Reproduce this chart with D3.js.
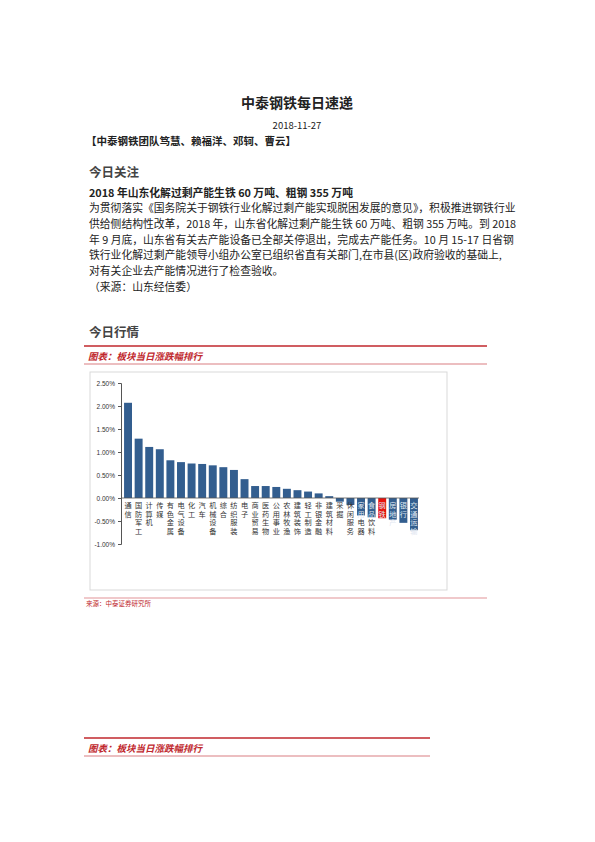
<!DOCTYPE html>
<html><head><meta charset="utf-8">
<script src="https://cdn.jsdelivr.net/npm/d3@7"></script>
<style>
body{margin:0;background:#fff;font-family:"Noto Sans CJK SC","Noto Sans",sans-serif;}
</style></head>
<body><div id="page"></div>
<script>
const categories = ["通信","国防军工","计算机","传媒","有色金属","电气设备","化工","汽车","机械设备","综合","纺织服装","电子","商业贸易","医药生物","公用事业","农林牧渔","建筑装饰","轻工制造","非银金融","建筑材料","采掘","休闲服务","家用电器","食品饮料","钢铁","房地产","银行","交通运输"];
const values = [2.07,1.29,1.11,1.06,0.82,0.78,0.75,0.74,0.71,0.67,0.61,0.41,0.26,0.26,0.24,0.20,0.17,0.14,0.10,0.04,-0.08,-0.15,-0.38,-0.42,-0.44,-0.47,-0.54,-0.70];
const yTicks = [2.5,2.0,1.5,1.0,0.5,0,-0.5,-1.0];
const bodyLines = [
 "为贯彻落实《国务院关于钢铁行业化解过剩产能实现脱困发展的意见》，积极推进钢铁行业",
 "供给侧结构性改革，2018 年，山东省化解过剩产能生铁 60 万吨、粗钢 355 万吨。到 2018",
 "年 9 月底，山东省有关去产能设备已全部关停退出，完成去产能任务。10 月 15-17 日省钢",
 "铁行业化解过剩产能领导小组办公室已组织省直有关部门,在市县(区)政府验收的基础上,",
 "对有关企业去产能情况进行了检查验收。",
 "（来源：山东经信委）"
];

const svg = d3.select("#page").append("svg").attr("width",595).attr("height",842);
const txt = (x,y,s,size,opt={}) => svg.append("text").attr("x",x).attr("y",y)
  .attr("font-size",size).attr("fill",opt.fill||"#222").attr("font-weight",opt.bold?"bold":"normal")
  .attr("text-anchor",opt.anchor||"start").attr("font-style",opt.italic?"italic":"normal").text(s);

txt(297,108,"中泰钢铁每日速递",14,{bold:true,anchor:"middle"});
txt(297,129,"2018-11-27",9.5,{anchor:"middle"});
txt(86,145,"【中泰钢铁团队笃慧、赖福洋、邓轲、曹云】",10.5,{bold:true});
txt(89,177,"今日关注",12.5,{bold:true,fill:"#444"});
txt(89,197,"2018 年山东化解过剩产能生铁 60 万吨、粗钢 355 万吨",10.8,{bold:true});
bodyLines.forEach((l,i)=>txt(89,212+i*15.8,l,10.8));
txt(89,337,"今日行情",12.5,{bold:true,fill:"#444"});

function caption(y,x2){
  svg.append("line").attr("x1",84).attr("x2",x2).attr("y1",y).attr("y2",y).attr("stroke","#c0272d").attr("stroke-width",1.6);
  txt(88,y+14,"图表：板块当日涨跌幅排行",9.5,{bold:true,italic:true,fill:"#c0272d"});
  svg.append("line").attr("x1",84).attr("x2",x2).attr("y1",y+18).attr("y2",y+18).attr("stroke","#c0272d").attr("stroke-width",0.6);
}
caption(346,487);
caption(738,430);

// chart frame
svg.append("rect").attr("x",90).attr("y",372).attr("width",357).attr("height",218).attr("fill","none").attr("stroke","#d9d9d9");

const y = d3.scaleLinear().domain([-1,2.5]).range([544,383]);
const x = d3.scaleBand().domain(categories).range([123,419]).paddingInner(0.25).paddingOuter(0.1);

svg.append("g").attr("transform","translate(121,0)")
  .call(d3.axisLeft(y).tickValues(yTicks).tickFormat(d=>d.toFixed(2)+"%").tickSize(3))
  .call(g=>g.selectAll("text").attr("font-size",6.5).attr("font-family","Liberation Sans, sans-serif").attr("fill","#333"))
  .call(g=>g.selectAll("line,path").attr("stroke","#555"));

svg.append("g").selectAll("rect").data(values).join("rect")
  .attr("x",(d,i)=>x(categories[i])).attr("width",x.bandwidth())
  .attr("y",d=>y(Math.max(0,d))).attr("height",d=>Math.abs(y(d)-y(0)))
  .attr("fill",(d,i)=>categories[i]==="钢铁"?"#e8120c":"#335e8f");

svg.append("line").attr("x1",121).attr("x2",419).attr("y1",y(0)).attr("y2",y(0)).attr("stroke","#555").attr("stroke-width",0.8);

const lab = svg.append("g");
categories.forEach((c,i)=>{
  const neg = values[i] < -0.2;
  [...c].forEach((ch,j)=>{
    lab.append("text").attr("x",x(c)+x.bandwidth()/2).attr("y",y(0)+10+j*8.5)
      .attr("text-anchor","middle").attr("font-size",7.2)
      .attr("fill",neg && y(0)+10+j*8.5 < y(values[i])+6 ? "#dfe6f0":"#333").text(ch);
  });
});

txt(86,606,"来源：中泰证券研究所",6.5,{fill:"#c0272d"});
svg.append("line").attr("x1",84).attr("x2",487).attr("y1",598).attr("y2",598).attr("stroke","#c0272d").attr("stroke-width",0.5);
</script></body></html>
